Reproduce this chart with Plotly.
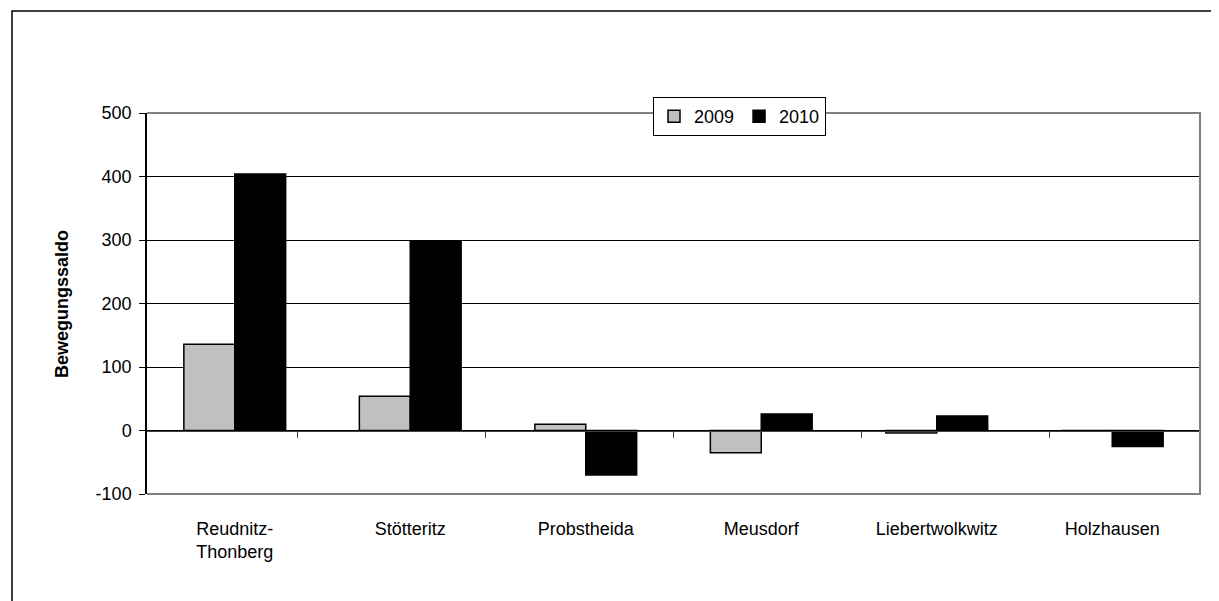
import plotly.graph_objects as go

categories = ["Reudnitz-<br>Thonberg", "Stötteritz", "Probstheida", "Meusdorf", "Liebertwolkwitz", "Holzhausen"]
values_2009 = [136, 54, 10, -35, -4, 0]
values_2010 = [404, 298, -70, 26, 23, -25]
y_tick_vals = [-100, 0, 100, 200, 300, 400, 500]
y_tick_text = ["-100", "0", "100", "200", "300", "400", "500"]

FONT = "Liberation Sans, Arial, sans-serif"
OFF = 8  # default body margin of the page
W, H = 1219 - OFF, 601 - OFF
ML, MR, MT, MB = 147 - OFF, 19, 113 - OFF, 107
pw, ph = W - ML - MR, H - MT - MB

def px_x(x):
    return (x - OFF - ML) / pw

def px_y(y):
    return (H - MB - (y - OFF)) / ph

fig = go.Figure()
fig.add_trace(go.Bar(name="2009", x=categories, y=values_2009,
                     marker=dict(color="#C0C0C0", line=dict(color="black", width=1.5))))
fig.add_trace(go.Bar(name="2010", x=categories, y=values_2010,
                     marker=dict(color="black", line=dict(color="black", width=1.5))))
# helper trace so the category axis at zero is drawn
fig.add_trace(go.Scatter(x=categories, y=[None] * len(categories), xaxis="x2", yaxis="y",
                         showlegend=False, hoverinfo="skip", mode="markers"))

fig.update_layout(
    width=W, height=H,
    margin=dict(l=ML, r=MR, t=MT, b=MB),
    paper_bgcolor="white", plot_bgcolor="white",
    font=dict(family=FONT, size=18, color="black"),
    barmode="group", bargap=0.42, bargroupgap=0,
    xaxis=dict(type="category", categoryorder="array", categoryarray=categories,
               showgrid=False, showline=False, ticks="", zeroline=False,
               tickfont=dict(family=FONT, size=18, color="black"),
               ticklabelstandoff=22),
    xaxis2=dict(type="category", categoryorder="array", categoryarray=categories,
                overlaying="x", anchor="free", position=1/6, side="bottom",
                showgrid=False, showline=True, linecolor="#404040", linewidth=1.2,
                ticks="outside", ticklen=6, tickcolor="#404040", tickwidth=1,
                tickson="boundaries", showticklabels=False, zeroline=False),
    yaxis=dict(range=[-100, 500], tickvals=y_tick_vals, ticktext=y_tick_text,
               showgrid=True, gridcolor="black", gridwidth=1,
               showline=True, linecolor="black", linewidth=1.5,
               ticks="outside", ticklen=6, tickcolor="black",
               zeroline=False, ticklabelstandoff=4,
               tickfont=dict(family=FONT, size=18, color="black")),
    legend=dict(orientation="h", x=px_x(653), y=px_y(97), xanchor="left", yanchor="top",
                bgcolor="white", bordercolor="black", borderwidth=1,
                font=dict(family=FONT, size=18, color="black"),
                itemwidth=30, traceorder="normal"),
    showlegend=True,
)

# plot area frame (top, right, bottom) in grey
fig.add_shape(type="path", xref="x domain", yref="y domain",
              path="M 0,1 L 1,1 L 1,0 L 0,0",
              line=dict(color="#808080", width=2), layer="above")
# outer chart frame
fig.add_shape(type="rect", xref="paper", yref="paper",
              x0=px_x(12), x1=px_x(1240), y0=px_y(640), y1=px_y(11),
              line=dict(color="black", width=1.5), layer="below")

fig.add_annotation(text="<b>Bewegungssaldo</b>", xref="paper", yref="paper",
                   x=px_x(62), y=px_y(304), xanchor="center", yanchor="middle",
                   textangle=-90, showarrow=False,
                   font=dict(family=FONT, size=18, color="black"))

fig.write_html("out.html")
